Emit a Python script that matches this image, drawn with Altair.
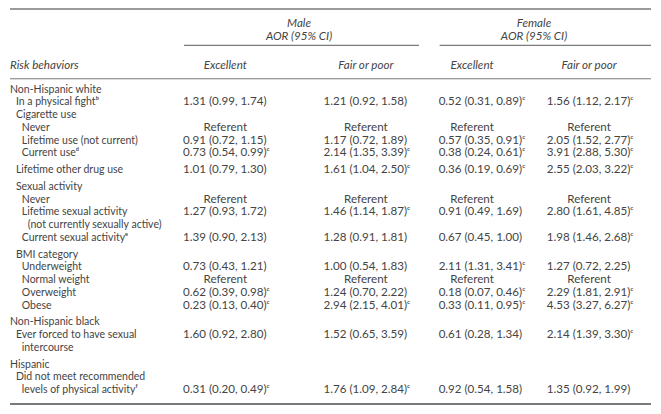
import altair as alt
import pandas as pd

# ---------------- data ----------------
labels = [
    "Non-Hispanic white", "In a physical fight\u1d47", "Cigarette use", "Never",
    "Lifetime use (not current)", "Current use\u1d48", "Lifetime other drug use",
    "Sexual activity", "Never", "Lifetime sexual activity",
    "(not currently sexually active)", "Current sexual activity\u1d49",
    "BMI category", "Underweight", "Normal weight", "Overweight", "Obese",
    "Non-Hispanic black", "Ever forced to have sexual", "intercourse",
    "Hispanic", "Did not meet recommended", "levels of physical activity\u1da0",
]
indent = [0, 1, 1, 2, 2, 2, 1, 1, 2, 2, 3, 2, 1, 2, 2, 2, 2, 0, 1, 2, 0, 1, 2]
group = [0, 0, 0, 0, 0, 0, 1, 2, 2, 2, 2, 2, 3, 3, 3, 3, 3, 4, 4, 4, 5, 5, 5]

male_exc = ["", "1.31 (0.99, 1.74)", "", "Referent", "0.91 (0.72, 1.15)", "0.73 (0.54, 0.99)",
            "1.01 (0.79, 1.30)", "", "Referent", "1.27 (0.93, 1.72)", "", "1.39 (0.90, 2.13)",
            "", "0.73 (0.43, 1.21)", "Referent", "0.62 (0.39, 0.98)", "0.23 (0.13, 0.40)",
            "", "1.60 (0.92, 2.80)", "", "", "", "0.31 (0.20, 0.49)"]
male_exc_sig = [0, 0, 0, 0, 0, 1, 0, 0, 0, 0, 0, 0, 0, 0, 0, 1, 1, 0, 0, 0, 0, 0, 1]

male_fair = ["", "1.21 (0.92, 1.58)", "", "Referent", "1.17 (0.72, 1.89)", "2.14 (1.35, 3.39)",
             "1.61 (1.04, 2.50)", "", "Referent", "1.46 (1.14, 1.87)", "", "1.28 (0.91, 1.81)",
             "", "1.00 (0.54, 1.83)", "Referent", "1.24 (0.70, 2.22)", "2.94 (2.15, 4.01)",
             "", "1.52 (0.65, 3.59)", "", "", "", "1.76 (1.09, 2.84)"]
male_fair_sig = [0, 0, 0, 0, 0, 1, 1, 0, 0, 1, 0, 0, 0, 0, 0, 0, 1, 0, 0, 0, 0, 0, 1]

fem_exc = ["", "0.52 (0.31, 0.89)", "", "Referent", "0.57 (0.35, 0.91)", "0.38 (0.24, 0.61)",
           "0.36 (0.19, 0.69)", "", "Referent", "0.91 (0.49, 1.69)", "", "0.67 (0.45, 1.00)",
           "", "2.11 (1.31, 3.41)", "Referent", "0.18 (0.07, 0.46)", "0.33 (0.11, 0.95)",
           "", "0.61 (0.28, 1.34)", "", "", "", "0.92 (0.54, 1.58)"]
fem_exc_sig = [0, 1, 0, 0, 1, 1, 1, 0, 0, 0, 0, 0, 0, 1, 0, 1, 1, 0, 0, 0, 0, 0, 0]

fem_fair = ["", "1.56 (1.12, 2.17)", "", "Referent", "2.05 (1.52, 2.77)", "3.91 (2.88, 5.30)",
            "2.55 (2.03, 3.22)", "", "Referent", "2.80 (1.61, 4.85)", "", "1.98 (1.46, 2.68)",
            "", "1.27 (0.72, 2.25)", "Referent", "2.29 (1.81, 2.91)", "4.53 (3.27, 6.27)",
            "", "2.14 (1.39, 3.30)", "", "", "", "1.35 (0.92, 1.99)"]
fem_fair_sig = [0, 1, 0, 0, 1, 1, 1, 0, 0, 1, 0, 1, 0, 0, 0, 1, 1, 0, 1, 0, 0, 0, 0]

col_headers = ["Excellent", "Fair or poor", "Excellent", "Fair or poor"]
group_headers = ["Male", "Female"]
ci_label = "AOR (95% CI)"
stub_header = "Risk behaviors"

# ---------------- layout (reference pixel units) ----------------
FIRST_ROW, PITCH, GAP = 87, 13, 4
LABEL_X, INDENT = 6, 6
COL_LEFT = [182, 325, 442, 552]
COL_CENTER = [225, 368, 476, 595]
GROUP_CENTER = [300, 539]
X0, X1 = 6, 658
TEXT = "#444444"
LINE = "#7a7a7a"
FONT = "Lato"
FS = 10.5
FS_NUM = 11.6

xs = alt.Scale(domain=[X0, X1])
ys = alt.Scale(domain=[5, 408], reverse=True)

row_y = [FIRST_ROW + i * PITCH + g * GAP for i, g in enumerate(group)]

lab_df = pd.DataFrame({
    "text": labels,
    "x": [LABEL_X + INDENT * k for k in indent],
    "y": row_y,
})

cells = []
for c, (vals, sig) in enumerate([(male_exc, male_exc_sig), (male_fair, male_fair_sig),
                                  (fem_exc, fem_exc_sig), (fem_fair, fem_fair_sig)]):
    for i, v in enumerate(vals):
        if not v:
            continue
        if v == "Referent":
            cells.append({"text": v, "x": COL_CENTER[c], "y": row_y[i], "kind": "ref"})
        else:
            cells.append({"text": v + ("\u1d9c" if sig[i] else ""), "x": COL_LEFT[c],
                          "y": row_y[i], "kind": "num"})
cell_df = pd.DataFrame(cells)

hdr = []
for c, h in enumerate(col_headers):
    hdr.append({"text": h, "x": COL_CENTER[c], "y": 63})
for g, h in enumerate(group_headers):
    hdr.append({"text": h, "x": GROUP_CENTER[g], "y": 20})
    hdr.append({"text": ci_label, "x": GROUP_CENTER[g], "y": 34})
hdr_df = pd.DataFrame(hdr)
stub_df = pd.DataFrame({"text": [stub_header], "x": [LABEL_X], "y": [63]})

rules_df = pd.DataFrame({
    "x": [X0, 183, 443, X0, X0],
    "x2": [X1, 422, X1, X1, X1],
    "y": [5, 42, 42, 76, 407],
    "w": [1.5, 1.2, 1.2, 1.0, 2.2],
})

X = lambda f: alt.X(f, type="quantitative", scale=xs, axis=None)
Y = lambda f: alt.Y(f, type="quantitative", scale=ys, axis=None)

rules = alt.Chart(rules_df).mark_rule(color=LINE).encode(
    x=X("x"), x2="x2:Q", y=Y("y"),
    strokeWidth=alt.StrokeWidth("w:Q", scale=None),
)

lab = alt.Chart(lab_df).mark_text(align="left", baseline="middle", font=FONT,
                                  fontSize=FS, color=TEXT).encode(
    x=X("x"), y=Y("y"), text="text:N")

nums = alt.Chart(cell_df[cell_df.kind == "num"]).mark_text(
    align="left", baseline="middle", font=FONT, fontSize=FS_NUM, color=TEXT).encode(
    x=X("x"), y=Y("y"), text="text:N")

refs = alt.Chart(cell_df[cell_df.kind == "ref"]).mark_text(
    align="center", baseline="middle", font=FONT, fontSize=FS_NUM, color=TEXT).encode(
    x=X("x"), y=Y("y"), text="text:N")

heads = alt.Chart(hdr_df).mark_text(align="center", baseline="middle", font=FONT,
                                    fontSize=FS_NUM, fontStyle="italic", color=TEXT).encode(
    x=X("x"), y=Y("y"), text="text:N")

stub = alt.Chart(stub_df).mark_text(align="left", baseline="middle", font=FONT,
                                    fontSize=FS_NUM, fontStyle="italic", color=TEXT).encode(
    x=X("x"), y=Y("y"), text="text:N")

chart = alt.layer(rules, lab, nums, refs, heads, stub).properties(
    width=645, height=398,
    autosize=alt.AutoSizeParams(type="fit", contains="padding"),
    padding=0,
).configure_view(stroke=None)

chart.save("out.html", embed_options={"renderer": "svg", "actions": False})
